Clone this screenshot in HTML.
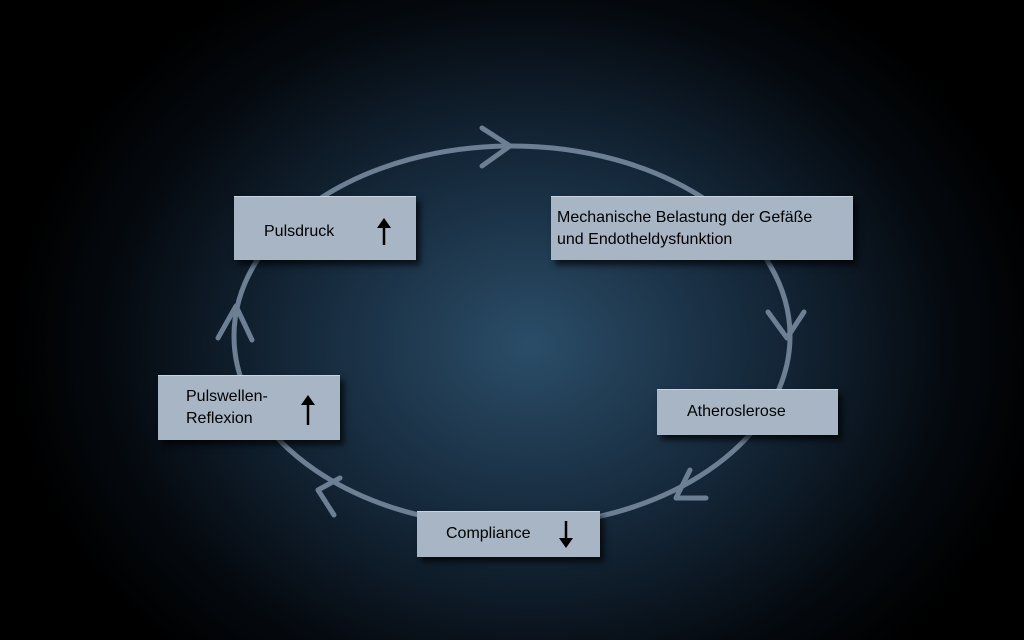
<!DOCTYPE html>
<html><head><style>
html,body{margin:0;padding:0;}
body{width:1024px;height:640px;overflow:hidden;background:radial-gradient(ellipse 520px 420px at 530px 345px,#2b4d68 0%,#15283a 45%,#050a10 80%,#000 100%);position:relative;font-family:"Liberation Sans",sans-serif;}
svg{position:absolute;left:0;top:0;}
.b{position:absolute;background:#a7b5c5;box-shadow:4px 5px 6px rgba(0,0,0,.7);border-top:1px solid #c8d3df;color:#000;font-size:16px;box-sizing:border-box;}
</style></head><body>
<svg width="1024" height="640">
<g fill="none" stroke="#6c7f93" stroke-width="5" stroke-linecap="round" stroke-linejoin="round">
<ellipse cx="512" cy="336" rx="278" ry="190"/>
<path d="M482 128 L510 146 L482 166"/>
<path d="M768 312 L787 338 L804 312"/>
<path d="M690 470 L676 498 L706 498"/>
<path d="M340 478 L318 490 L334 515"/>
<path d="M218 338 L236 306 L252 340"/>
</g>
</svg>
<div class="b" style="left:234px;top:196px;width:182px;height:64px;"><span style="position:absolute;left:30px;top:26px;">Pulsdruck</span>
<svg width="20" height="30" style="left:140px;top:20px;"><line x1="10" y1="8" x2="10" y2="28" stroke="#000" stroke-width="2.5"/><path d="M3 11 L10 1 L17 11 Z" fill="#000"/></svg></div>
<div class="b" style="left:551px;top:196px;width:302px;height:64px;"><span style="position:absolute;left:6px;top:10px;line-height:22px;">Mechanische Belastung der Gefäße<br>und Endotheldysfunktion</span></div>
<div class="b" style="left:657px;top:389px;width:181px;height:46px;"><span style="position:absolute;left:30px;top:13px;">Atheroslerose</span></div>
<div class="b" style="left:417px;top:511px;width:183px;height:46px;"><span style="position:absolute;left:29px;top:13px;">Compliance</span>
<svg width="20" height="30" style="left:139px;top:8px;"><line x1="10" y1="1" x2="10" y2="21" stroke="#000" stroke-width="2.5"/><path d="M3 18 L10 28 L17 18 Z" fill="#000"/></svg></div>
<div class="b" style="left:158px;top:375px;width:182px;height:65px;"><span style="position:absolute;left:28px;top:10px;line-height:22px;">Pulswellen-<br>Reflexion</span>
<svg width="20" height="32" style="left:140px;top:18px;"><line x1="10" y1="8" x2="10" y2="31" stroke="#000" stroke-width="2.5"/><path d="M3 11 L10 1 L17 11 Z" fill="#000"/></svg></div>
</body></html>
